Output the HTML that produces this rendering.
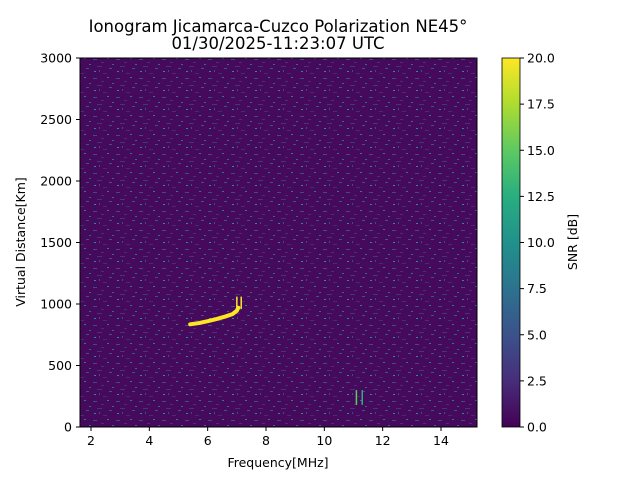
<!DOCTYPE html>
<html><head><meta charset="utf-8"><style>
body{margin:0;background:#fff;}
svg{display:block;font-family:"DejaVu Sans","Liberation Sans",sans-serif;}
</style></head><body>
<svg id="chart" width="640" height="480" viewBox="0 0 640 480">
<defs>
<pattern id="noise" width="23" height="19" patternUnits="userSpaceOnUse">
<rect width="23" height="19" fill="#450a5c"/>
<rect x="1" y="2" width="4" height="1" fill="#3e4a89"/>
<rect x="9" y="5" width="3" height="1" fill="#472d7b"/>
<rect x="15" y="1" width="2" height="1" fill="#2a788e"/>
<rect x="5" y="9" width="5" height="1" fill="#46337e"/>
<rect x="17" y="11" width="3" height="1" fill="#3b528b"/>
<rect x="2" y="14" width="2" height="1" fill="#21918c"/>
<rect x="11" y="16" width="4" height="1" fill="#482878"/>
<rect x="20" y="7" width="2" height="1" fill="#31688e"/>
<rect x="7" y="13" width="1" height="2" fill="#3e4a89"/>
</pattern>
<linearGradient id="vir" x1="0" y1="1" x2="0" y2="0">
<stop offset="0" stop-color="#440154"/><stop offset="0.125" stop-color="#472d7b"/>
<stop offset="0.25" stop-color="#3b528b"/><stop offset="0.375" stop-color="#2c728e"/>
<stop offset="0.5" stop-color="#21918c"/><stop offset="0.625" stop-color="#28ae80"/>
<stop offset="0.75" stop-color="#5ec962"/><stop offset="0.875" stop-color="#addc30"/>
<stop offset="1" stop-color="#fde725"/></linearGradient>
<clipPath id="clip"><rect x="80" y="58" width="397" height="369"/></clipPath>
</defs>
<text x="278" y="32" font-size="16.5" text-anchor="middle">Ionogram Jicamarca-Cuzco Polarization NE45°</text>
<text x="278" y="49" font-size="16.5" text-anchor="middle">01/30/2025-11:23:07 UTC</text>
<rect x="80" y="58" width="397" height="369" fill="url(#noise)"/>
<g id="marks" clip-path="url(#clip)"></g>
<rect x="80" y="58" width="397" height="369" fill="none" stroke="#000" stroke-width="1"/>
<g id="axes"></g>
<text x="278" y="467" font-size="12.5" text-anchor="middle">Frequency[MHz]</text>
<text transform="translate(25,242) rotate(-90)" font-size="12.5" text-anchor="middle">Virtual Distance[Km]</text>
<rect x="502" y="58" width="18" height="369" fill="url(#vir)" stroke="#000" stroke-width="0.8"/>
<g id="cbticks"></g>
<text transform="translate(577,242) rotate(-90)" font-size="12.5" text-anchor="middle">SNR [dB]</text>
</svg>
<script>
const xTicks=[2,4,6,8,10,12,14];
const yTicks=[0,500,1000,1500,2000,2500,3000];
const cbTicks=[0,2.5,5,7.5,10,12.5,15,17.5,20];
const traceFreq=[5.4,5.7,6.0,6.3,6.6,6.85,7.0,7.05];
const traceDist=[835,845,860,878,898,918,945,970];
const spikeFreq=[7.0,7.15,11.1,11.3];
const spikeLow=[960,960,180,180];
const spikeHigh=[1060,1060,300,300];
const spikeColor=["#fde725","#fde725","#5ec962","#28ae80"];
const NS="http://www.w3.org/2000/svg";
const X=f=>91+(f-2)*350/12;
const Y=d=>427-d*369/3000;
const CB=v=>427-v*369/20;
function mk(t,a,p){const e=document.createElementNS(NS,t);for(const k in a)e.setAttribute(k,a[k]);p.appendChild(e);return e;}
const marks=document.getElementById('marks'),axes=document.getElementById('axes'),cb=document.getElementById('cbticks');
const pl=mk('polyline',{points:traceFreq.map((f,i)=>X(f)+','+Y(traceDist[i])).join(' '),fill:'none',stroke:'#fde725','stroke-width':4,'stroke-linecap':'round'},marks);


spikeFreq.forEach((f,i)=>{
const l=mk('line',{x1:X(f),x2:X(f),y1:Y(spikeLow[i]),y2:Y(spikeHigh[i]),stroke:spikeColor[i],'stroke-width':1.5},marks);


});
xTicks.forEach(v=>{
const t=mk('line',{x1:X(v),x2:X(v),y1:427,y2:431,stroke:'#000'},axes);


const s=mk('text',{x:X(v),y:445,'font-size':12.5,'text-anchor':'middle'},axes);s.textContent=v;


});
yTicks.forEach(v=>{
const t=mk('line',{x1:76,x2:80,y1:Y(v),y2:Y(v),stroke:'#000'},axes);


const s=mk('text',{x:72,y:Y(v)+4.5,'font-size':12.5,'text-anchor':'end'},axes);s.textContent=v;


});
cbTicks.forEach(v=>{
const t=mk('line',{x1:520,x2:524,y1:CB(v),y2:CB(v),stroke:'#000'},cb);


const s=mk('text',{x:527,y:CB(v)+4.5,'font-size':12.5},cb);s.textContent=v.toFixed(1);


});
</script>
</body></html>
